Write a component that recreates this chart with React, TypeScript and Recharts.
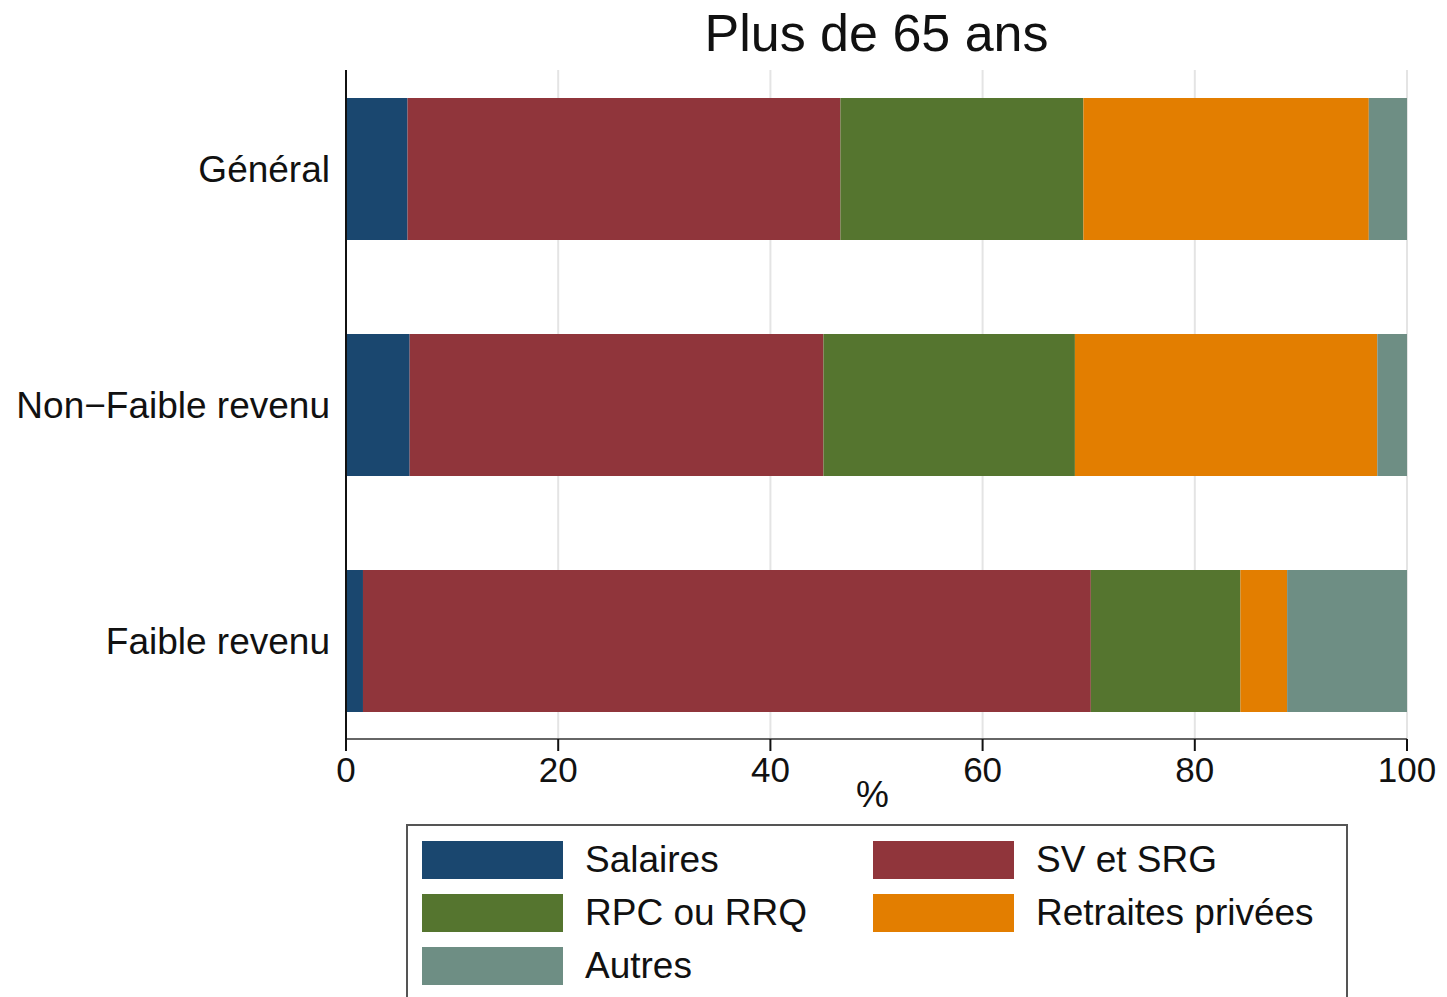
import React from 'react';
import { BarChart, Bar, XAxis, YAxis, CartesianGrid } from 'recharts';

// Part du revenu par source (%), 65 ans et plus
const GROUPS = ['Général', 'Non−Faible revenu', 'Faible revenu'];
const SALAIRES = [5.8, 6.0, 1.6];
const SV_SRG = [40.8, 39.0, 68.6];
const RPC_RRQ = [22.9, 23.7, 14.1];
const RETRAITES = [26.9, 28.5, 4.4];
const AUTRES = [3.6, 2.8, 11.3];
const X_TICKS = [0, 20, 40, 60, 80, 100];

const SERIES = [
  { key: 'salaires', label: 'Salaires', color: '#1a476f' },
  { key: 'sv', label: 'SV et SRG', color: '#90353b' },
  { key: 'rpc', label: 'RPC ou RRQ', color: '#55752f' },
  { key: 'ret', label: 'Retraites privées', color: '#e37e00' },
  { key: 'autres', label: 'Autres', color: '#6e8e84' },
];

const FONT = '"Liberation Sans", Arial, Helvetica, sans-serif';

const data = GROUPS.map((name, i) => ({
  name,
  salaires: SALAIRES[i],
  sv: SV_SRG[i],
  rpc: RPC_RRQ[i],
  ret: RETRAITES[i],
  autres: AUTRES[i],
}));

function LegendBox() {
  // 2 colonnes, ordre ligne par ligne comme dans Stata
  const colX = [14, 465];
  return (
    <div
      style={{
        position: 'absolute',
        left: 406,
        top: 824,
        width: 942,
        height: 190,
        border: '2px solid #555',
        boxSizing: 'border-box',
        background: '#fff',
      }}
    >
      {SERIES.map((s, i) => {
        const col = i % 2;
        const row = Math.floor(i / 2);
        return (
          <div
            key={s.key}
            style={{
              position: 'absolute',
              left: colX[col],
              top: 14 + row * 53,
              display: 'flex',
              alignItems: 'center',
              height: 40,
            }}
          >
            <div style={{ width: 141, height: 38, background: s.color }} />
            <span
              style={{
                marginLeft: 22,
                fontFamily: FONT,
                fontSize: 37,
                color: '#111',
                whiteSpace: 'nowrap',
                lineHeight: '40px',
              }}
            >
              {s.label}
            </span>
          </div>
        );
      })}
    </div>
  );
}

export default function App() {
  return (
    <div style={{ position: 'absolute', left: 0, top: 0, width: 1447, height: 997, background: '#fff', overflow: 'hidden' }}>
      <div
        style={{
          position: 'absolute',
          left: 346,
          width: 1061,
          top: 3,
          textAlign: 'center',
          fontFamily: FONT,
          fontSize: 52,
          color: '#111',
          lineHeight: '60px',
        }}
      >
        Plus de 65 ans
      </div>

      <BarChart
        width={1447}
        height={997}
        data={data}
        layout="vertical"
        margin={{ top: 70, right: 40, bottom: 185, left: 16 }}
        barCategoryGap={0}
      >
        <CartesianGrid horizontal={false} vertical stroke="#e4e4e4" strokeWidth={2} />
        <XAxis
          type="number"
          domain={[0, 100]}
          ticks={X_TICKS}
          height={73}
          tickSize={12}
          tickMargin={6}
          stroke="#666"
          strokeWidth={2}
          tick={{ fill: '#111', fontSize: 35, fontFamily: FONT }}
          tickLine={{ stroke: '#111', strokeWidth: 2 }}
          label={{ value: '%', position: 'insideBottom', offset: 5, dx: -4, fill: '#111', fontSize: 37, fontFamily: FONT }}
        />
        <YAxis
          type="category"
          dataKey="name"
          width={330}
          tickSize={0}
          tickMargin={16}
          tickLine={false}
          stroke="#111"
          strokeWidth={2}
          padding={{ top: -19, bottom: -20 }}
          tick={{ fill: '#111', fontSize: 37, fontFamily: FONT }}
        />
        {SERIES.map((s) => (
          <Bar
            key={s.key}
            dataKey={s.key}
            name={s.label}
            stackId="a"
            fill={s.color}
            barSize={142}
            isAnimationActive={false}
          />
        ))}
      </BarChart>

      <LegendBox />
    </div>
  );
}
